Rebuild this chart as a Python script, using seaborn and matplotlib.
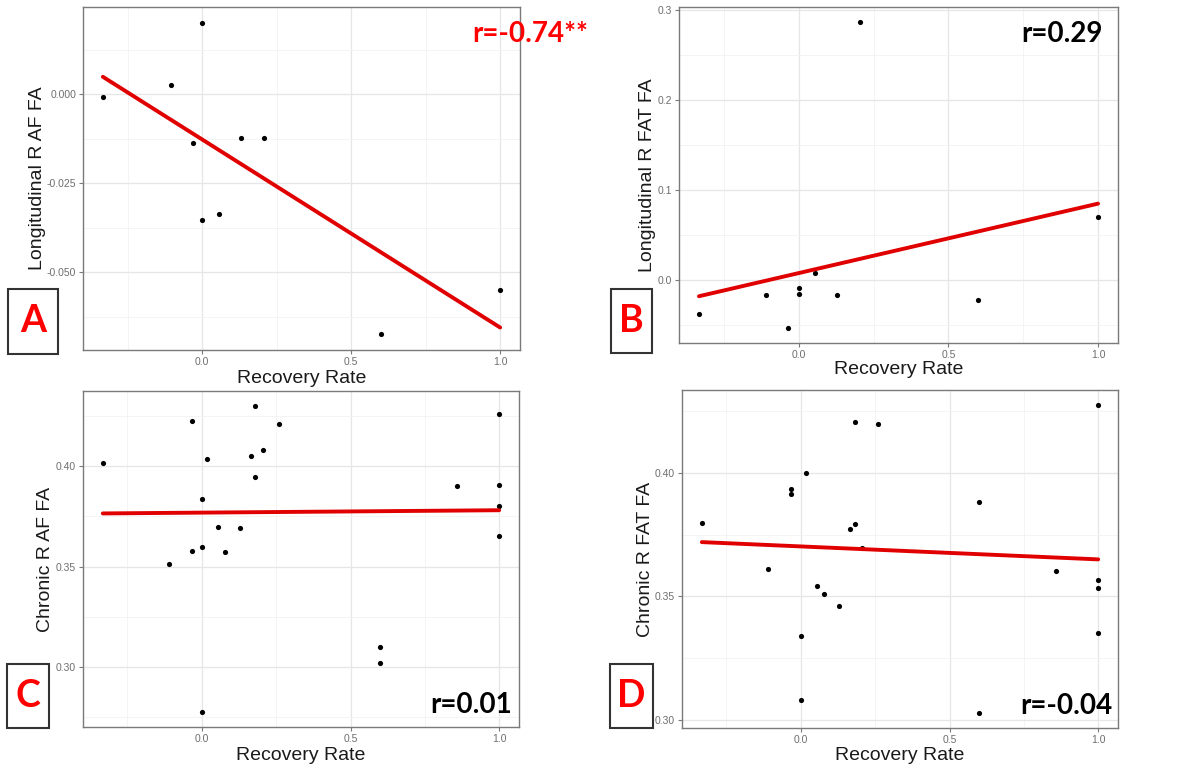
import numpy as np
import pandas as pd
import matplotlib
matplotlib.use("Agg")
import matplotlib.pyplot as plt
import seaborn as sns
from matplotlib.ticker import FixedLocator

sns.set_theme(style="white")
plt.rcParams['font.family'] = ['Liberation Sans', 'DejaVu Sans']

# ---- data ----
a_x = [-0.333, -0.106, 0.0, -0.031, 0.130, 0.207, 0.0, 0.056, 0.600, 1.0]
a_y = [-0.0008, 0.0025, 0.0201, -0.0136, -0.0122, -0.0122, -0.0354, -0.0336, -0.0675, -0.0550]

b_x = [-0.333, -0.109, -0.034, 0.0, 0.0, 0.056, 0.127, 0.206, 0.600, 1.0]
b_y = [-0.0374, -0.0166, -0.0525, -0.0081, -0.0152, 0.0085, -0.0166, 0.2867, -0.0215, 0.0710]

c_x = [-0.333, -0.034, 0.180, 0.261, 0.017, 0.167, 0.207, 0.180, 0.0, 0.056, 0.129,
       0.0, -0.034, 0.077, -0.110, 0.600, 0.600, 0.0, 0.859, 1.0, 1.0, 1.0, 1.0]
c_y = [0.4018, 0.4224, 0.4298, 0.4209, 0.4035, 0.4053, 0.4081, 0.3947, 0.3838, 0.3695, 0.3692,
       0.3599, 0.3578, 0.3571, 0.3512, 0.3098, 0.3018, 0.2778, 0.3901, 0.4258, 0.3907, 0.3801, 0.3652]

d_x = [-0.333, -0.110, -0.033, -0.033, 0.018, 0.0, 0.0, 0.056, 0.078, 0.129, 0.167,
       0.181, 0.181, 0.261, 0.600, 0.600, 0.858, 1.0, 1.0, 1.0, 1.0, 0.207]
d_y = [0.3798, 0.3609, 0.3934, 0.3914, 0.4001, 0.3339, 0.3078, 0.3543, 0.3511, 0.3461, 0.3772,
       0.3792, 0.4205, 0.4198, 0.3881, 0.3028, 0.3601, 0.4274, 0.3566, 0.3534, 0.3351, 0.3695]

x_ticks = [0.0, 0.5, 1.0]
x_ticklabels = ["0.0", "0.5", "1.0"]
ylabels = ["Longitudinal R AF FA", "Longitudinal R FAT FA", "Chronic R AF FA", "Chronic R FAT FA"]
xlabel = "Recovery Rate"
letters = ["A", "B", "C", "D"]
r_texts = ["r=-0.74**", "r=0.29", "r=0.01", "r=-0.04"]
r_colors = ["#ff0000", "black", "black", "black"]
y_ticks = [[0.000, -0.025, -0.050], [0.0, 0.1, 0.2, 0.3], [0.30, 0.35, 0.40], [0.30, 0.35, 0.40]]
y_ticklabels = [["0.000", "-0.025", "-0.050"], ["0.0", "0.1", "0.2", "0.3"],
                ["0.30", "0.35", "0.40"], ["0.30", "0.35", "0.40"]]
y_minor = [[0.0125, -0.0125, -0.0375, -0.0625], [-0.05, 0.05, 0.15, 0.25],
           [0.275, 0.325, 0.375, 0.425], [0.275, 0.325, 0.375, 0.425]]
x_minor = [-0.25, 0.25, 0.75]

W, H = 1204, 771
fig = plt.figure(figsize=(W / 100, H / 100), dpi=100)

# axes rects in px: left, top, right, bottom
rects = [(83, 7, 520, 350), (679, 7, 1118, 343), (83, 391, 519, 727), (682, 390, 1118, 728)]
ylab_x = [38, 648, 46, 645]
xlab_y = [378, 370, 755, 755]
letter_boxes = [(8, 289, 58, 354), (611, 289, 652, 353), (7, 664, 49, 728), (610, 664, 653, 728)]
r_pos = [(588, 34), (1103, 34), (512, 705), (1113, 706)]

datasets = [(a_x, a_y), (b_x, b_y), (c_x, c_y), (d_x, d_y)]

for i, (xs, ys) in enumerate(datasets):
    l, t, r, b = rects[i]
    ax = fig.add_axes([l / W, (H - b) / H, (r - l) / W, (b - t) / H])
    df = pd.DataFrame({"x": xs, "y": ys})
    sns.regplot(data=df, x="x", y="y", ax=ax, ci=None,
                scatter_kws=dict(s=14, color="black", linewidths=0, alpha=1, zorder=3),
                line_kws=dict(color="#e00000", linewidth=2.8, zorder=4))
    # ggplot-like 5% expansion
    xmin, xmax = min(xs), max(xs)
    ymin, ymax = min(ys), max(ys)
    dx, dy = (xmax - xmin) * 0.05, (ymax - ymin) * 0.05
    ax.set_xlim(xmin - dx, xmax + dx)
    ax.set_ylim(ymin - dy, ymax + dy)
    ax.set_xticks(x_ticks)
    ax.set_xticklabels(x_ticklabels)
    ax.set_yticks(y_ticks[i])
    ax.set_yticklabels(y_ticklabels[i])
    ax.xaxis.set_minor_locator(FixedLocator(x_minor))
    ax.yaxis.set_minor_locator(FixedLocator(y_minor[i]))
    ax.grid(True, which="major", color="#e6e6e6", linewidth=0.9, zorder=0)
    ax.grid(True, which="minor", color="#f2f2f2", linewidth=0.6, zorder=0)
    ax.set_axisbelow(True)
    for s in ax.spines.values():
        s.set_color("#7a7a7a")
        s.set_linewidth(1.0)
    ax.tick_params(axis="both", which="major", length=3, width=0.8, color="#7a7a7a",
                   labelsize=7.5, labelcolor="#6e6e6e", pad=2, bottom=True, left=True)
    ax.tick_params(axis="both", which="minor", length=0)
    ax.set_xlabel(xlabel, fontsize=14, color="#1a1a1a")
    ax.set_ylabel(ylabels[i], fontsize=14, color="#1a1a1a")
    ax.xaxis.set_label_coords(0.5, -(xlab_y[i] - b) / (b - t))
    ax.xaxis.label.set_va("center")
    ax.yaxis.set_label_coords((ylab_x[i] - l) / (r - l), 0.5)
    ax.yaxis.label.set_va("center")
    # r annotation
    rx, ry = r_pos[i]
    fig.text(rx / W, (H - ry) / H, r_texts[i], ha="right", va="center", fontsize=20,
             fontweight="bold", color=r_colors[i], family=["Lato", "DejaVu Sans"])
    # letter boxes
    bl, bt, br, bb = letter_boxes[i]
    fig.patches.append(plt.Rectangle((bl / W, (H - bb) / H), (br - bl) / W, (bb - bt) / H,
                                     transform=fig.transFigure, facecolor="white",
                                     edgecolor="#333333", linewidth=1.5, zorder=5))
    fig.text((bl + br) / 2 / W, (H - (bt + bb) / 2) / H, letters[i], ha="center", va="center",
             fontsize=27, fontweight="bold", color="#ff0000", family=["Lato", "DejaVu Sans"],
             zorder=6)

fig.savefig("out.png", dpi=100, facecolor="white")
